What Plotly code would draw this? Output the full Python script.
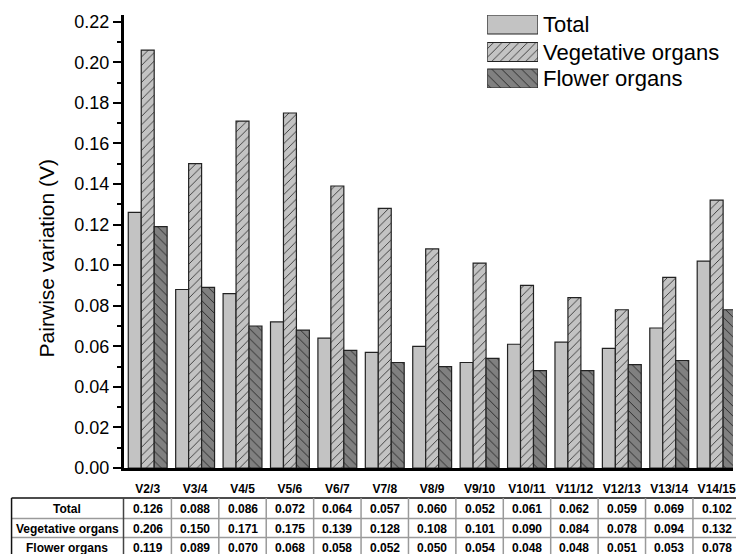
import plotly.graph_objects as go

# ---- data ----
pairs = ["V2/3", "V3/4", "V4/5", "V5/6", "V6/7", "V7/8", "V8/9", "V9/10",
         "V10/11", "V11/12", "V12/13", "V13/14", "V14/15"]
total = [0.126, 0.088, 0.086, 0.072, 0.064, 0.057, 0.060, 0.052,
         0.061, 0.062, 0.059, 0.069, 0.102]
vegetative = [0.206, 0.150, 0.171, 0.175, 0.139, 0.128, 0.108, 0.101,
              0.090, 0.084, 0.078, 0.094, 0.132]
flower = [0.119, 0.089, 0.070, 0.068, 0.058, 0.052, 0.050, 0.054,
          0.048, 0.048, 0.051, 0.053, 0.078]
series_names = ["Total", "Vegetative organs", "Flower organs"]

# ---- styles ----
W, H = 736, 554
ML, MR, MT, MB = 124, 0, 15, 86
PH = H - MT - MB
FONT = "Arial, Liberation Sans, sans-serif"
EDGE = dict(color="#222222", width=1.2)
styles = [
    dict(color="#c3c3c3", line=EDGE),
    dict(color="#c3c3c3", line=EDGE,
         pattern=dict(shape="/", fgcolor="#2b2b2b", bgcolor="#c3c3c3",
                      size=6, solidity=0.14, fillmode="replace")),
    dict(color="#808080", line=EDGE,
         pattern=dict(shape="\\", fgcolor="#2b2b2b", bgcolor="#808080",
                      size=7, solidity=0.14, fillmode="replace")),
]


def py(px):
    """pixel row -> paper y"""
    return (H - MB - px) / PH


def px_x(px):
    """pixel column -> paper x"""
    return (px - ML) / (W - ML - MR)


fig = go.Figure()
for name, vals, st in zip(series_names, [total, vegetative, flower], styles):
    fig.add_trace(go.Bar(x=pairs, y=vals, name=name, marker=st,
                         showlegend=False))

# legend swatches on a small helper axis
legend_rows = [24.5, 52, 78.5]
for name, row, st in zip(series_names, legend_rows, styles):
    fig.add_trace(go.Bar(x=[1], y=[row], base=0, orientation="h", width=19,
                         marker=st, xaxis="x2", yaxis="y2", showlegend=False,
                         hoverinfo="skip", cliponaxis=False))

annotations = []
for name, row in zip(series_names, legend_rows):
    annotations.append(dict(x=1, y=row, xref="x2", yref="y2", text=name,
                            showarrow=False, xanchor="left", yanchor="middle",
                            xshift=3, font=dict(family=FONT, size=22,
                                                color="black")))

# axis title
annotations.append(dict(x=px_x(46), y=py(258), xref="paper", yref="paper",
                        text="Pairwise variation (V)", textangle=-90,
                        showarrow=False, xanchor="center", yanchor="middle",
                        font=dict(family=FONT, size=21, color="black")))

# data table under the axis
row_y = [509, 528.5, 547.5]
cell_font = dict(family=FONT, size=12, color="black", weight="bold")
for label, vals, ry in zip(series_names, [total, vegetative, flower], row_y):
    annotations.append(dict(x=px_x(67), y=py(ry), xref="paper", yref="paper",
                            text=label, showarrow=False, xanchor="center",
                            yanchor="middle", font=cell_font))
    for cat, v in zip(pairs, vals):
        annotations.append(dict(x=cat, y=py(ry), xref="x", yref="paper",
                                text=f"{v:.3f}", showarrow=False,
                                xanchor="center", yanchor="middle",
                                font=cell_font))

shapes = []
GRID = dict(color="#9a9a9a", width=1.5)
# horizontal lines
shapes.append(dict(type="line", xref="paper", yref="paper",
                   x0=px_x(11), x1=px_x(W + 5), y0=py(498), y1=py(498),
                   line=dict(color="#111", width=1.5)))
for yy in [518.5, 537.5]:
    shapes.append(dict(type="line", xref="paper", yref="paper",
                       x0=px_x(11), x1=px_x(W + 5), y0=py(yy), y1=py(yy),
                       line=GRID))
# outer left border and label column border
shapes.append(dict(type="line", xref="paper", yref="paper",
                   x0=px_x(11), x1=px_x(11), y0=py(498), y1=py(H + 5),
                   line=dict(color="#111", width=1.5)))
shapes.append(dict(type="line", xref="paper", yref="paper",
                   x0=px_x(123.5), x1=px_x(123.5), y0=py(498), y1=py(H + 5),
                   line=dict(color="#444", width=1.5)))
# column separators between categories
for i in range(len(pairs)):
    shapes.append(dict(type="line", xref="x", yref="paper",
                       x0=i + 0.5, x1=i + 0.5, y0=py(498), y1=py(H + 5),
                       line=GRID))

fig.update_layout(
    width=W, height=H,
    margin=dict(l=ML, r=MR, t=MT, b=MB),
    paper_bgcolor="white", plot_bgcolor="white",
    barmode="group", bargap=0.18, bargroupgap=0,
    font=dict(family=FONT, color="black"),
    annotations=annotations, shapes=shapes,
    xaxis=dict(type="category", range=[-0.5, 12.345], showgrid=False,
               showline=True, linecolor="black", linewidth=3,
               ticks="", ticklabelstandoff=8, zeroline=False,
               tickfont=dict(family=FONT, size=12, color="black",
                             weight="bold")),
    yaxis=dict(range=[0, 0.2233], dtick=0.02, tick0=0, tickformat=".2f",
               showgrid=False, zeroline=False, showline=True,
               linecolor="black", linewidth=3, ticks="outside", ticklen=8,
               tickwidth=2, tickcolor="black",
               tickfont=dict(family=FONT, size=18, color="black"),
               minor=dict(dtick=0.01, ticks="outside", ticklen=4,
                          tickwidth=2, tickcolor="black")),
    xaxis2=dict(domain=[px_x(489), px_x(540)], range=[0, 1], visible=False,
                anchor="y2", fixedrange=True),
    yaxis2=dict(domain=[py(88), 1], range=[88, 15], visible=False,
                anchor="x2", fixedrange=True),
)

fig.write_html("out.html")
